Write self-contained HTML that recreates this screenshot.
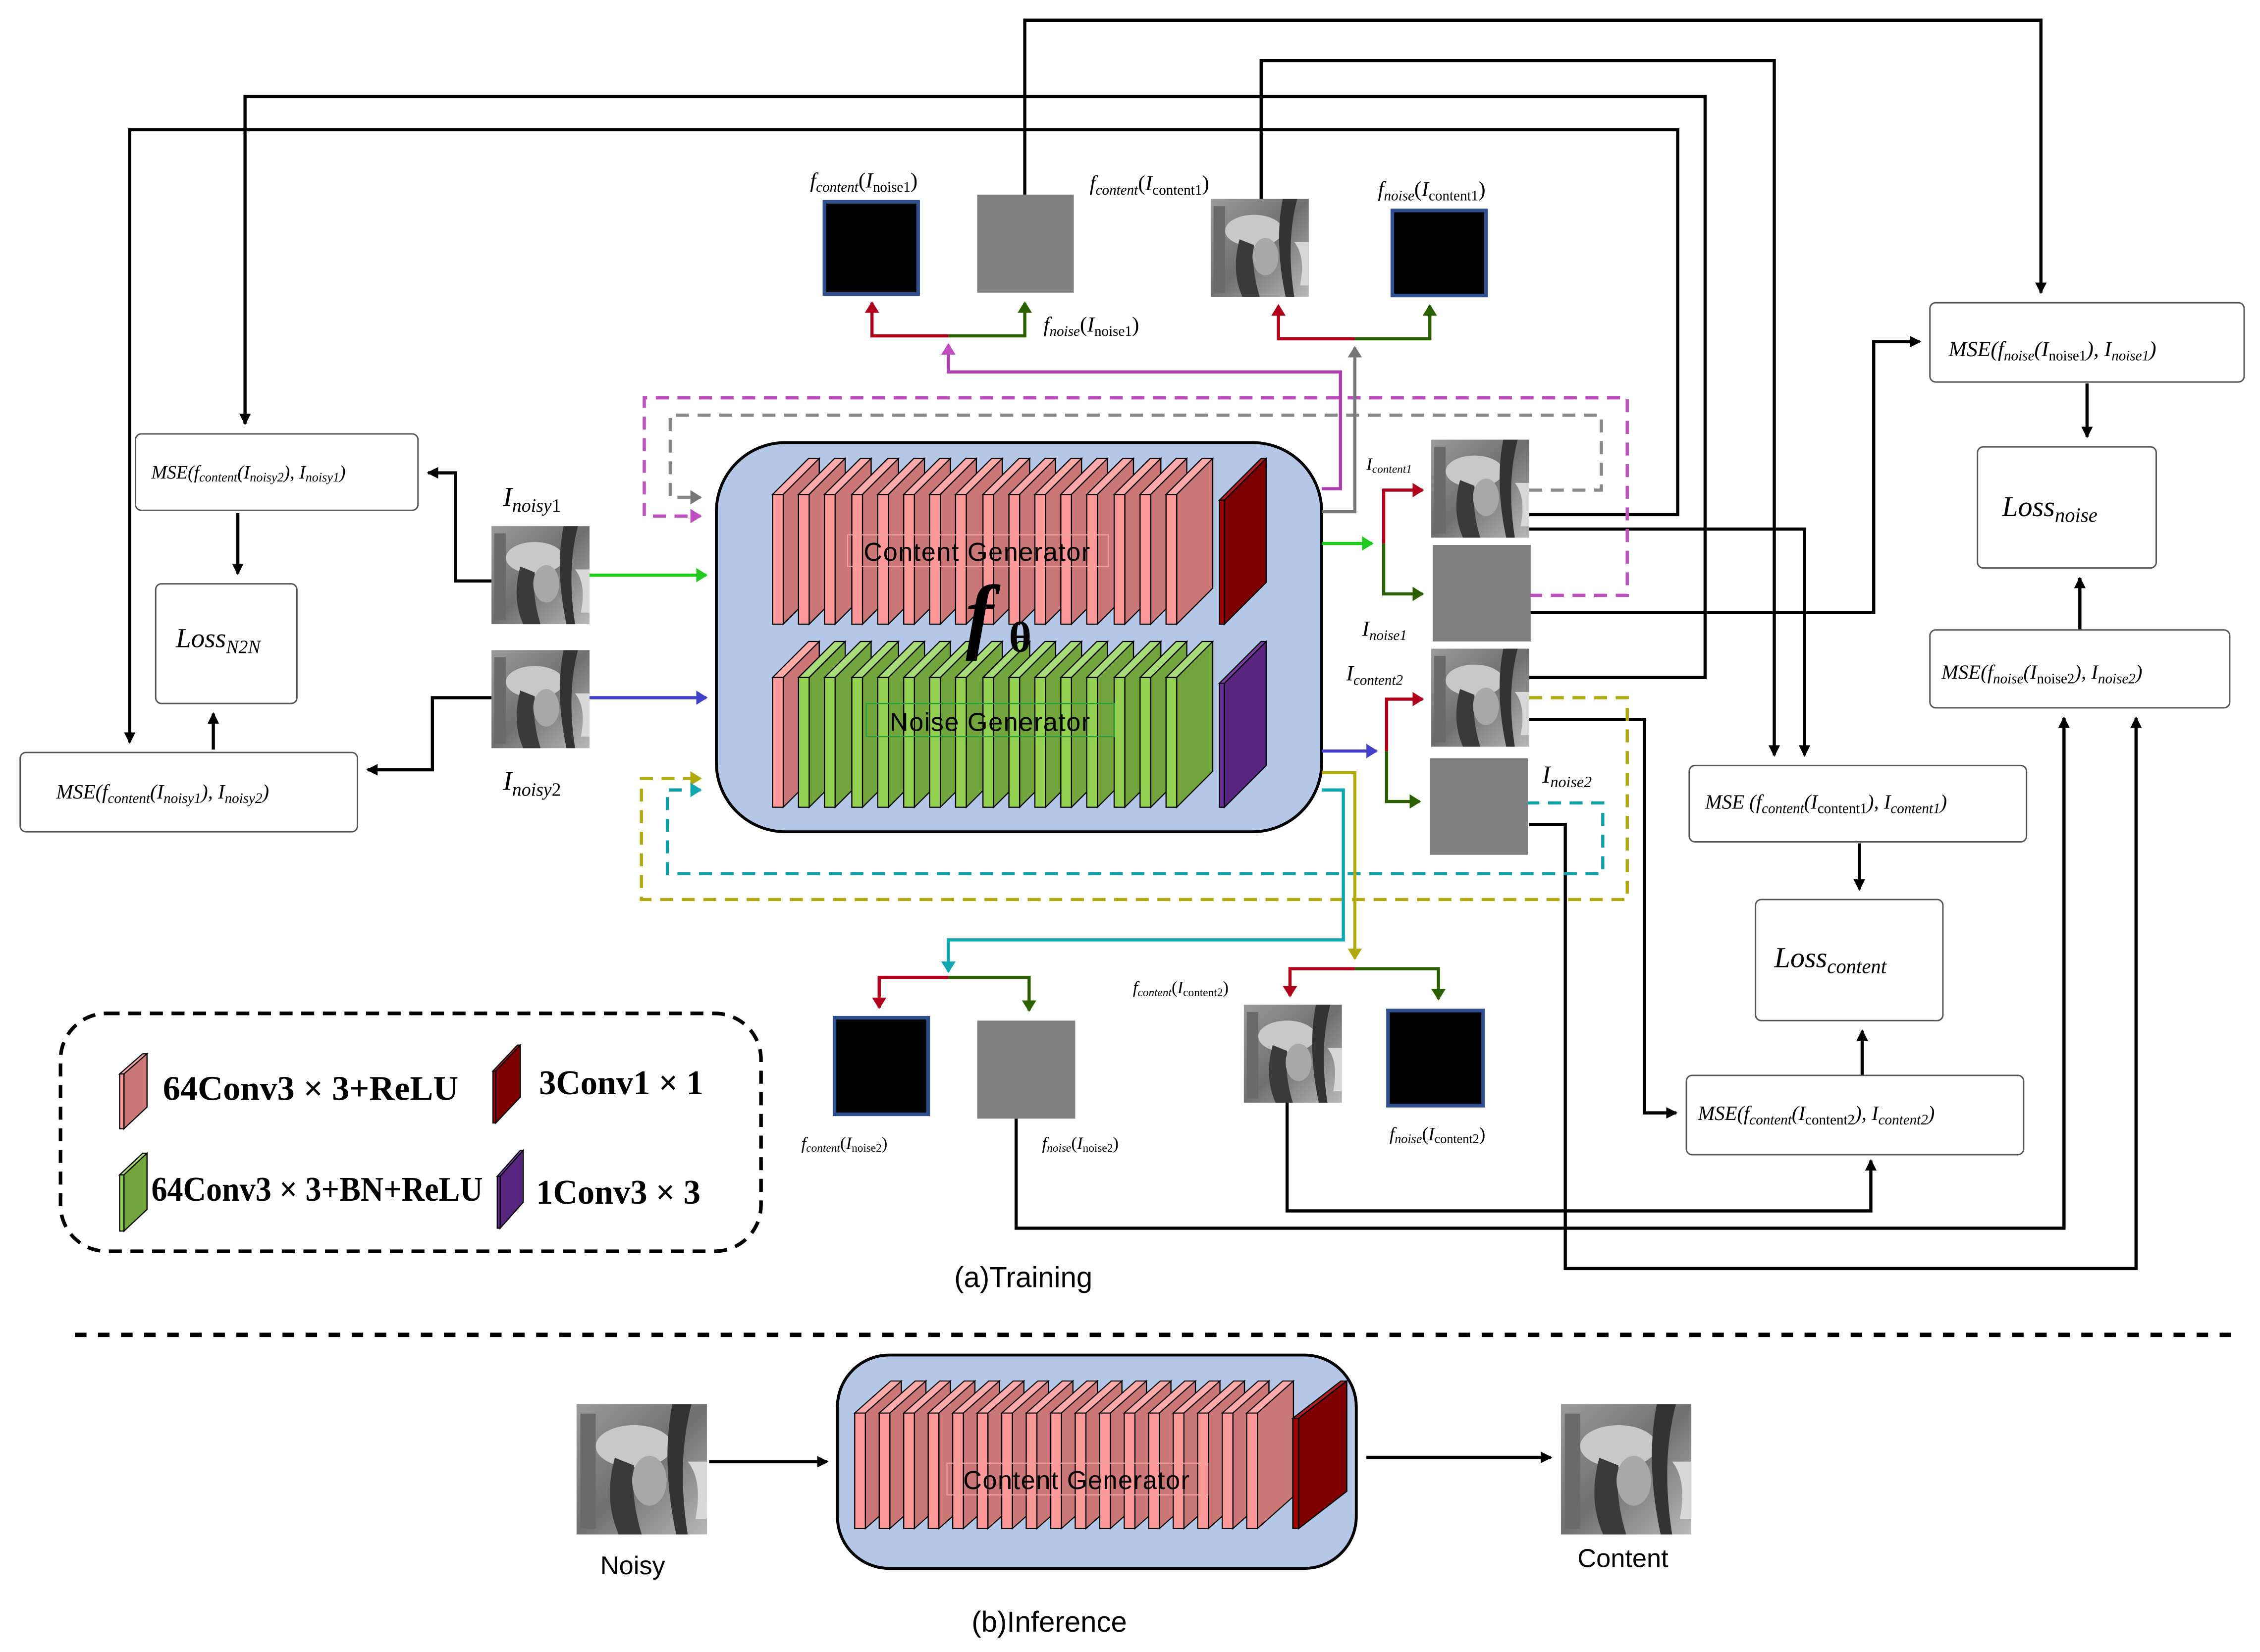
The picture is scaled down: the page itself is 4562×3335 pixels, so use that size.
<!DOCTYPE html>
<html><head><meta charset="utf-8"><style>
html,body{margin:0;padding:0;background:#fff;}
svg{display:block;}
.m{font-family:"Liberation Serif",serif;font-style:italic;}
.sans{font-family:"Liberation Sans",sans-serif;}
.lg{font-family:"Liberation Serif",serif;font-weight:bold;font-size:24px;}
</style></head><body>
<svg width="4562" height="3335" viewBox="0 0 1568 1146" preserveAspectRatio="none" xmlns="http://www.w3.org/2000/svg">
<defs>
<marker id="ak" markerWidth="8" markerHeight="8" refX="7" refY="4" orient="auto" markerUnits="userSpaceOnUse"><path d="M0,0 L8,4 L0,8 z" fill="#000"/></marker>
<marker id="ar" markerWidth="8" markerHeight="10" refX="7" refY="5" orient="auto" markerUnits="userSpaceOnUse"><path d="M0,0 L8,5 L0,10 z" fill="#b0001c"/></marker>
<marker id="ag" markerWidth="8" markerHeight="10" refX="7" refY="5" orient="auto" markerUnits="userSpaceOnUse"><path d="M0,0 L8,5 L0,10 z" fill="#2a6000"/></marker>
<marker id="agr" markerWidth="8" markerHeight="10" refX="7" refY="5" orient="auto" markerUnits="userSpaceOnUse"><path d="M0,0 L8,5 L0,10 z" fill="#777"/></marker>
<marker id="am" markerWidth="8" markerHeight="10" refX="7" refY="5" orient="auto" markerUnits="userSpaceOnUse"><path d="M0,0 L8,5 L0,10 z" fill="#c050c0"/></marker>
<marker id="agn" markerWidth="8" markerHeight="10" refX="7" refY="5" orient="auto" markerUnits="userSpaceOnUse"><path d="M0,0 L8,5 L0,10 z" fill="#20c820"/></marker>
<marker id="ab" markerWidth="8" markerHeight="10" refX="7" refY="5" orient="auto" markerUnits="userSpaceOnUse"><path d="M0,0 L8,5 L0,10 z" fill="#4040c8"/></marker>
<marker id="ao" markerWidth="8" markerHeight="10" refX="7" refY="5" orient="auto" markerUnits="userSpaceOnUse"><path d="M0,0 L8,5 L0,10 z" fill="#b0aa10"/></marker>
<marker id="at" markerWidth="8" markerHeight="10" refX="7" refY="5" orient="auto" markerUnits="userSpaceOnUse"><path d="M0,0 L8,5 L0,10 z" fill="#10a8b0"/></marker>
<g id="pk">
<polygon points="0,25 7.4,25 32.4,0 25,0" fill="#ffaaaa" stroke="#000" stroke-width="0.8"/>
<polygon points="7.4,25 32.4,0 32.4,90 7.4,115" fill="#cc7777" stroke="#000" stroke-width="0.8"/>
<rect x="0" y="25" width="7.4" height="90" fill="#ff9999" stroke="#000" stroke-width="0.8"/>
</g>
<g id="gn">
<polygon points="0,25 7.4,25 32.4,0 25,0" fill="#a8dc78" stroke="#000" stroke-width="0.8"/>
<polygon points="7.4,25 32.4,0 32.4,90 7.4,115" fill="#72a53c" stroke="#000" stroke-width="0.8"/>
<rect x="0" y="25" width="7.4" height="90" fill="#92d050" stroke="#000" stroke-width="0.8"/>
</g>
<g id="dr">
<polygon points="0,29 3.5,29 32.5,0 29,0" fill="#b02020" stroke="#000" stroke-width="0.8"/>
<polygon points="3.5,29 32.5,0 32.5,86 3.5,115" fill="#800000" stroke="#000" stroke-width="0.8"/>
<rect x="0" y="29" width="3.5" height="86" fill="#a00000" stroke="#000" stroke-width="0.8"/>
</g>
<g id="pu">
<polygon points="0,29 3.5,29 32.5,0 29,0" fill="#7a40a8" stroke="#000" stroke-width="0.8"/>
<polygon points="3.5,29 32.5,0 32.5,86 3.5,115" fill="#58267e" stroke="#000" stroke-width="0.8"/>
<rect x="0" y="29" width="3.5" height="86" fill="#6a2e98" stroke="#000" stroke-width="0.8"/>
</g>
<linearGradient id="lg1" x1="0" y1="0" x2="1" y2="1"><stop offset="0" stop-color="#9a9a9a"/><stop offset="0.5" stop-color="#707070"/><stop offset="1" stop-color="#b8b8b8"/></linearGradient>
<g id="lena">
<rect width="68" height="68" fill="url(#lg1)"/>
<rect x="2" y="5" width="8" height="60" fill="#6a6a6a"/>
<ellipse cx="30" cy="22" rx="20" ry="11" fill="#c8c8c8"/>
<path d="M20,28 Q14,50 22,68 L34,68 Q28,48 30,32 z" fill="#3a3a3a"/>
<ellipse cx="38" cy="40" rx="9" ry="13" fill="#a8a8a8"/>
<path d="M50,0 Q44,30 52,68 L58,68 Q52,30 60,0 z" fill="#333"/>
<path d="M58,30 Q66,40 62,60 L68,60 L68,30 z" fill="#d8d8d8"/>
</g>
</defs>

<g fill="none" stroke="#000" stroke-width="2.2">
<polyline points="711,135 711,14 1416,14 1416,203" marker-end="url(#ak)"/>
<polyline points="875,138 875,42 1231,42 1231,524" marker-end="url(#ak)"/>
<polyline points="1061,470 1183,470 1183,67 170,67 170,294" marker-end="url(#ak)"/>
<polyline points="1061,357 1164,357 1164,90 90,90 90,515" marker-end="url(#ak)"/>
<polyline points="1061,367 1252,367 1252,524" marker-end="url(#ak)"/>
<polyline points="1061,425 1300,425 1300,237 1332,237" marker-end="url(#ak)"/>
<polyline points="1061,499 1141,499 1141,772 1163,772" marker-end="url(#ak)"/>
<polyline points="1061,572 1086,572 1086,880 1482,880 1482,498" marker-end="url(#ak)"/>
<polyline points="705,776 705,852 1432,852 1432,498" marker-end="url(#ak)"/>
<polyline points="893,765 893,840 1298,840 1298,805" marker-end="url(#ak)"/>
<polyline points="341,403 316,403 316,328 297,328" marker-end="url(#ak)"/>
<polyline points="341,484 300,484 300,534 255,534" marker-end="url(#ak)"/>
<line x1="165" y1="356" x2="165" y2="398" marker-end="url(#ak)"/>
<line x1="148" y1="520" x2="148" y2="495" marker-end="url(#ak)"/>
<line x1="1448" y1="266" x2="1448" y2="303" marker-end="url(#ak)"/>
<line x1="1443" y1="437" x2="1443" y2="401" marker-end="url(#ak)"/>
<line x1="1290" y1="585" x2="1290" y2="617" marker-end="url(#ak)"/>
<line x1="1292" y1="746" x2="1292" y2="715" marker-end="url(#ak)"/>
<line x1="492" y1="1014" x2="574" y2="1014" marker-end="url(#ak)"/>
<line x1="948" y1="1011" x2="1076" y2="1011" marker-end="url(#ak)"/>
</g>

<g fill="none" stroke-width="2.2" stroke-dasharray="9,6">
<polyline points="1061,413 1129,413 1129,276 447,276 447,358 486,358" stroke="#c050c0" marker-end="url(#am)"/>
<polyline points="1061,340 1111,340 1111,288 465,288 465,345 486,345" stroke="#888" marker-end="url(#agr)"/>
<polyline points="1061,484 1129,484 1129,624 445,624 445,540 486,540" stroke="#b0aa10" marker-end="url(#ao)"/>
<polyline points="1059,557 1112,557 1112,606 463,606 463,548 486,548" stroke="#10a0a8" marker-end="url(#at)"/>
</g>

<rect x="497" y="307" width="420" height="270" rx="48" fill="#b4c7e7" stroke="#000" stroke-width="2"/>
<g>
<use href="#pk" x="536" y="318"/><use href="#pk" x="554" y="318"/><use href="#pk" x="572" y="318"/><use href="#pk" x="591" y="318"/><use href="#pk" x="609" y="318"/><use href="#pk" x="627" y="318"/><use href="#pk" x="645" y="318"/><use href="#pk" x="663" y="318"/><use href="#pk" x="682" y="318"/><use href="#pk" x="700" y="318"/><use href="#pk" x="718" y="318"/><use href="#pk" x="736" y="318"/><use href="#pk" x="754" y="318"/><use href="#pk" x="773" y="318"/><use href="#pk" x="791" y="318"/><use href="#pk" x="809" y="318"/>
<use href="#dr" x="846" y="318"/>
<use href="#pk" x="536" y="445"/><use href="#gn" x="554" y="445"/><use href="#gn" x="572" y="445"/><use href="#gn" x="591" y="445"/><use href="#gn" x="609" y="445"/><use href="#gn" x="627" y="445"/><use href="#gn" x="645" y="445"/><use href="#gn" x="663" y="445"/><use href="#gn" x="682" y="445"/><use href="#gn" x="700" y="445"/><use href="#gn" x="718" y="445"/><use href="#gn" x="736" y="445"/><use href="#gn" x="754" y="445"/><use href="#gn" x="773" y="445"/><use href="#gn" x="791" y="445"/><use href="#gn" x="809" y="445"/>
<use href="#pu" x="846" y="445"/>
</g>
<rect x="588" y="371" width="181" height="22" fill="none" stroke="#f0a0a0" stroke-width="0.8"/>
<text x="678" y="389" text-anchor="middle" class="sans" font-size="18" letter-spacing="0.5">Content  Generator</text>
<rect x="601" y="488" width="172" height="23" fill="none" stroke="#20a040" stroke-width="0.8"/>
<text x="687" y="507" text-anchor="middle" class="sans" font-size="18" letter-spacing="0.5">Noise  Generator</text>
<text x="670" y="446" class="m" font-weight="bold" font-size="58">f</text>
<text x="700" y="452" font-family="Liberation Serif,serif" font-weight="bold" font-size="30">θ</text>

<g fill="none" stroke-width="2.2">
<line x1="409" y1="399" x2="490" y2="399" stroke="#20c820" marker-end="url(#agn)"/>
<line x1="409" y1="484" x2="490" y2="484" stroke="#4040c8" marker-end="url(#ab)"/>
<line x1="917" y1="377" x2="952" y2="377" stroke="#20c820" marker-end="url(#agn)"/>
<polyline points="960,377 960,340 987,340" stroke="#b0001c" marker-end="url(#ar)"/>
<polyline points="960,377 960,412 987,412" stroke="#2a6000" marker-end="url(#ag)"/>
<polyline points="917,355 940,355 940,241" stroke="#777" marker-end="url(#agr)"/>
<polyline points="940,235 887,235 887,212" stroke="#b0001c" marker-end="url(#ar)"/>
<polyline points="940,235 992,235 992,212" stroke="#2a6000" marker-end="url(#ag)"/>
<polyline points="917,339 930,339 930,258 658,258 658,239" stroke="#b040b0" marker-end="url(#am)"/>
<polyline points="658,233 605,233 605,210" stroke="#b0001c" marker-end="url(#ar)"/>
<polyline points="658,233 711,233 711,210" stroke="#2a6000" marker-end="url(#ag)"/>
<line x1="917" y1="521" x2="955" y2="521" stroke="#4040c8" marker-end="url(#ab)"/>
<polyline points="962,521 962,485 987,485" stroke="#b0001c" marker-end="url(#ar)"/>
<polyline points="962,521 962,556 985,556" stroke="#2a6000" marker-end="url(#ag)"/>
<polyline points="917,536 940,536 940,665" stroke="#b0aa10" marker-end="url(#ao)"/>
<polyline points="940,672 895,672 895,691" stroke="#b0001c" marker-end="url(#ar)"/>
<polyline points="940,672 998,672 998,693" stroke="#2a6000" marker-end="url(#ag)"/>
<polyline points="917,548 932,548 932,652 658,652 658,674" stroke="#10a8b0" marker-end="url(#at)"/>
<polyline points="658,678 610,678 610,699" stroke="#b0001c" marker-end="url(#ar)"/>
<polyline points="658,678 714,678 714,701" stroke="#2a6000" marker-end="url(#ag)"/>
</g>

<use href="#lena" x="341" y="365"/>
<use href="#lena" x="341" y="451"/>
<rect x="572" y="140" width="65" height="64" fill="#000" stroke="#2f4f8f" stroke-width="2.5"/>
<rect x="678" y="135" width="67" height="68" fill="#808080"/>
<use href="#lena" x="840" y="138"/>
<rect x="966" y="146" width="65" height="59" fill="#000" stroke="#2f4f8f" stroke-width="2.5"/>
<use href="#lena" x="993" y="305"/>
<rect x="994" y="378" width="68" height="67" fill="#808080"/>
<use href="#lena" x="993" y="450"/>
<rect x="992" y="526" width="68" height="67" fill="#808080"/>
<rect x="579" y="706" width="65" height="67" fill="#000" stroke="#2f4f8f" stroke-width="2.5"/>
<rect x="678" y="708" width="68" height="68" fill="#808080"/>
<use href="#lena" x="863" y="697"/>
<rect x="963" y="701" width="66" height="66" fill="#000" stroke="#2f4f8f" stroke-width="2.5"/>

<text x="349" y="351" class="m" font-size="19">I<tspan font-size="13" dy="4">noisy</tspan><tspan font-size="13" font-style="normal">1</tspan></text>
<text x="349" y="548" class="m" font-size="19">I<tspan font-size="13" dy="4">noisy</tspan><tspan font-size="13" font-style="normal">2</tspan></text>
<text x="562" y="130" class="m" font-size="15">f<tspan font-size="10" dy="3">content</tspan><tspan dy="-3" font-style="normal">(</tspan>I<tspan font-size="10" dy="3" font-style="normal">noise1</tspan><tspan dy="-3" font-style="normal">)</tspan></text>
<text x="724" y="230" class="m" font-size="15">f<tspan font-size="10" dy="3">noise</tspan><tspan dy="-3" font-style="normal">(</tspan>I<tspan font-size="10" dy="3" font-style="normal">noise1</tspan><tspan dy="-3" font-style="normal">)</tspan></text>
<text x="756" y="132" class="m" font-size="15">f<tspan font-size="10" dy="3">content</tspan><tspan dy="-3" font-style="normal">(</tspan>I<tspan font-size="10" dy="3" font-style="normal">content1</tspan><tspan dy="-3" font-style="normal">)</tspan></text>
<text x="956" y="136" class="m" font-size="15">f<tspan font-size="10" dy="3">noise</tspan><tspan dy="-3" font-style="normal">(</tspan>I<tspan font-size="10" dy="3" font-style="normal">content1</tspan><tspan dy="-3" font-style="normal">)</tspan></text>
<text x="948" y="326" class="m" font-size="12">I<tspan font-size="8" dy="2">content1</tspan></text>
<text x="945" y="441" class="m" font-size="15">I<tspan font-size="10" dy="3">noise1</tspan></text>
<text x="934" y="472" class="m" font-size="15">I<tspan font-size="10" dy="3">content2</tspan></text>
<text x="1070" y="543" class="m" font-size="17">I<tspan font-size="11" dy="3">noise2</tspan></text>
<text x="786" y="689" class="m" font-size="12">f<tspan font-size="8" dy="2">content</tspan><tspan dy="-2" font-style="normal">(</tspan>I<tspan font-size="8" dy="2" font-style="normal">content2</tspan><tspan dy="-2" font-style="normal">)</tspan></text>
<text x="556" y="797" class="m" font-size="12">f<tspan font-size="8" dy="2">content</tspan><tspan dy="-2" font-style="normal">(</tspan>I<tspan font-size="8" dy="2" font-style="normal">noise2</tspan><tspan dy="-2" font-style="normal">)</tspan></text>
<text x="723" y="797" class="m" font-size="12">f<tspan font-size="8" dy="2">noise</tspan><tspan dy="-2" font-style="normal">(</tspan>I<tspan font-size="8" dy="2" font-style="normal">noise2</tspan><tspan dy="-2" font-style="normal">)</tspan></text>
<text x="964" y="791" class="m" font-size="13">f<tspan font-size="9" dy="2">noise</tspan><tspan dy="-2" font-style="normal">(</tspan>I<tspan font-size="9" dy="2" font-style="normal">content2</tspan><tspan dy="-2" font-style="normal">)</tspan></text>

<g fill="#fff" stroke="#555" stroke-width="1">
<rect x="94" y="301" width="196" height="53" rx="4"/>
<rect x="108" y="405" width="98" height="83" rx="4"/>
<rect x="14" y="522" width="234" height="55" rx="4"/>
<rect x="1339" y="210" width="218" height="55" rx="4"/>
<rect x="1372" y="310" width="124" height="84" rx="4"/>
<rect x="1339" y="437" width="208" height="54" rx="4"/>
<rect x="1172" y="531" width="234" height="53" rx="4"/>
<rect x="1218" y="624" width="130" height="84" rx="4"/>
<rect x="1170" y="746" width="234" height="55" rx="4"/>
</g>
<text x="105" y="332" class="m" font-size="13">MSE(f<tspan font-size="9" dy="2">content</tspan><tspan dy="-2">(I</tspan><tspan font-size="9" dy="2">noisy2</tspan><tspan dy="-2">), I</tspan><tspan font-size="9" dy="2">noisy1</tspan><tspan dy="-2">)</tspan></text>
<text x="122" y="449" class="m" font-size="19">Loss<tspan font-size="13" dy="4">N2N</tspan></text>
<text x="39" y="554" class="m" font-size="14">MSE(f<tspan font-size="10" dy="3">content</tspan><tspan dy="-3">(I</tspan><tspan font-size="10" dy="3">noisy1</tspan><tspan dy="-3">), I</tspan><tspan font-size="10" dy="3">noisy2</tspan><tspan dy="-3">)</tspan></text>
<text x="1352" y="247" class="m" font-size="15">MSE(f<tspan font-size="10" dy="3">noise</tspan><tspan dy="-3">(I</tspan><tspan font-size="10" dy="3" font-style="normal">noise1</tspan><tspan dy="-3">), I</tspan><tspan font-size="10" dy="3">noise1</tspan><tspan dy="-3">)</tspan></text>
<text x="1389" y="358" class="m" font-size="20">Loss<tspan font-size="14" dy="4">noise</tspan></text>
<text x="1347" y="471" class="m" font-size="14">MSE(f<tspan font-size="10" dy="3">noise</tspan><tspan dy="-3">(I</tspan><tspan font-size="10" dy="3" font-style="normal">noise2</tspan><tspan dy="-3">), I</tspan><tspan font-size="10" dy="3">noise2</tspan><tspan dy="-3">)</tspan></text>
<text x="1183" y="561" class="m" font-size="14">MSE (f<tspan font-size="10" dy="3">content</tspan><tspan dy="-3">(I</tspan><tspan font-size="10" dy="3" font-style="normal">content1</tspan><tspan dy="-3">), I</tspan><tspan font-size="10" dy="3">content1</tspan><tspan dy="-3">)</tspan></text>
<text x="1231" y="671" class="m" font-size="20">Loss<tspan font-size="14" dy="4">content</tspan></text>
<text x="1178" y="777" class="m" font-size="14">MSE(f<tspan font-size="10" dy="3">content</tspan><tspan dy="-3">(I</tspan><tspan font-size="10" dy="3" font-style="normal">content2</tspan><tspan dy="-3">), I</tspan><tspan font-size="10" dy="3">content2</tspan><tspan dy="-3">)</tspan></text>

<rect x="42" y="703" width="486" height="165" rx="32" fill="none" stroke="#000" stroke-width="2.5" stroke-dasharray="9,6"/>
<g stroke="#000" stroke-width="0.8">
<polygon points="83,745 86,745 102,731 99,731" fill="#ffaaaa"/><polygon points="86,745 102,731 102,768 86,783" fill="#cc7777"/><rect x="83" y="745" width="3" height="38" fill="#ff9999"/>
<polygon points="342,743 344,743 361,725 359,725" fill="#b02020"/><polygon points="344,743 361,725 361,761 344,779" fill="#800000"/><rect x="342" y="743" width="2" height="36" fill="#a00000"/>
<polygon points="83,815 86,815 102,800 99,800" fill="#a8dc78"/><polygon points="86,815 102,800 102,839 86,854" fill="#72a53c"/><rect x="83" y="815" width="3" height="39" fill="#92d050"/>
<polygon points="345,816 347,816 363,798 361,798" fill="#7a40a8"/><polygon points="347,816 363,798 363,834 347,852" fill="#58267e"/><rect x="345" y="816" width="2" height="36" fill="#6a2e98"/>
</g>
<text x="113" y="763" class="lg" textLength="205" lengthAdjust="spacingAndGlyphs">64Conv3 × 3+ReLU</text>
<text x="374" y="759" class="lg" textLength="114" lengthAdjust="spacingAndGlyphs">3Conv1 × 1</text>
<text x="105" y="833" class="lg" textLength="230" lengthAdjust="spacingAndGlyphs">64Conv3 × 3+BN+ReLU</text>
<text x="372" y="835" class="lg" textLength="114" lengthAdjust="spacingAndGlyphs">1Conv3 × 3</text>

<text x="710" y="893" text-anchor="middle" class="sans" font-size="20">(a)Training</text>
<line x1="52" y1="926" x2="1548" y2="926" stroke="#000" stroke-width="3" stroke-dasharray="8,8"/>

<rect x="581" y="940" width="360" height="148" rx="36" fill="#b4c7e7" stroke="#000" stroke-width="2"/>
<g transform="translate(0,958) scale(1,0.89)">
<use href="#pk" x="593" y="0"/><use href="#pk" x="610" y="0"/><use href="#pk" x="627" y="0"/><use href="#pk" x="644" y="0"/><use href="#pk" x="661" y="0"/><use href="#pk" x="678" y="0"/><use href="#pk" x="695" y="0"/><use href="#pk" x="712" y="0"/><use href="#pk" x="729" y="0"/><use href="#pk" x="746" y="0"/><use href="#pk" x="763" y="0"/><use href="#pk" x="780" y="0"/><use href="#pk" x="797" y="0"/><use href="#pk" x="814" y="0"/><use href="#pk" x="831" y="0"/><use href="#pk" x="848" y="0"/><use href="#pk" x="865" y="0"/>
<use href="#dr" x="897" y="0" transform="translate(897,0) scale(1.15,1) translate(-897,0)"/>
</g>
<rect x="657" y="1015" width="181" height="22" fill="none" stroke="#f0a0a0" stroke-width="0.8"/>
<text x="747" y="1033" text-anchor="middle" class="sans" font-size="18" letter-spacing="0.5">Content  Generator</text>
<use href="#lena" transform="translate(400,974) scale(1.33,1.33)"/>
<use href="#lena" transform="translate(1083,974) scale(1.33,1.33)"/>
<text x="439" y="1092" text-anchor="middle" class="sans" font-size="18">Noisy</text>
<text x="1126" y="1087" text-anchor="middle" class="sans" font-size="18">Content</text>
<text x="728" y="1132" text-anchor="middle" class="sans" font-size="20">(b)Inference</text>
</svg>
</body></html>
